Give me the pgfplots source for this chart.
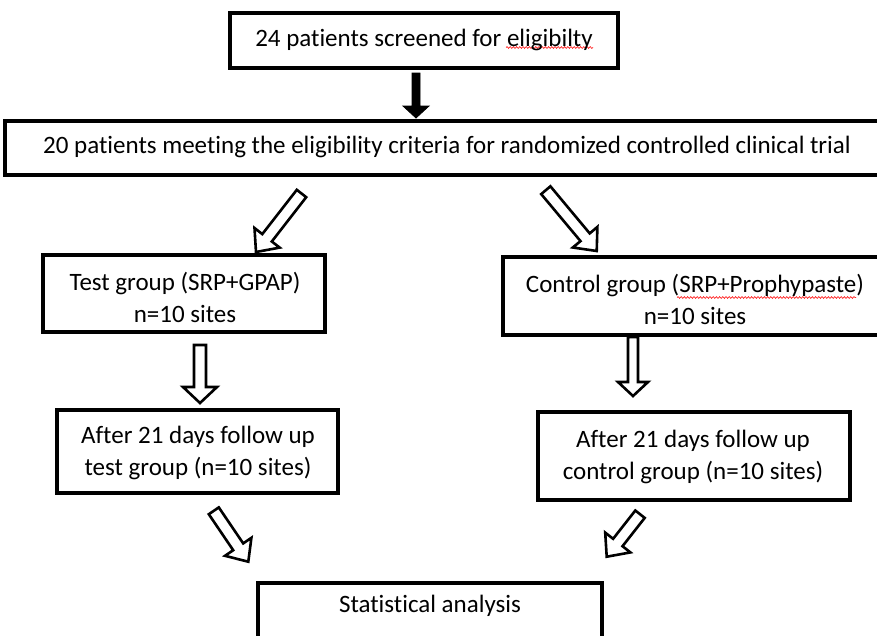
\documentclass[border=0pt]{standalone}
\usepackage{pgfplots}
\pgfplotsset{compat=1.18}
\usetikzlibrary{decorations.pathmorphing}
\usepackage{fontspec}
\setmainfont{Carlito}[Ligatures={NoCommon}]
\begin{document}
\begin{tikzpicture}
\begin{axis}[at={(0,0)},anchor=south west,width=877pt,height=635pt,scale only axis,
  xmin=0,xmax=877,ymin=0,ymax=635,y dir=reverse,hide axis,clip=true]
\pgfplotsset{every axis plot/.append style={mark=none,line join=miter}}
% boxes
\addplot[black,line width=3.4pt] coordinates {(230,13) (618,13) (618,68) (230,68)} -- cycle;
\addplot[black,line width=3.2pt] coordinates {(5,121) (890,121) (890,175) (5,175)} -- cycle;
\addplot[black,line width=3.2pt] coordinates {(43,255) (325,255) (325,332) (43,332)} -- cycle;
\addplot[black,line width=3.2pt] coordinates {(503,257) (890,257) (890,335) (503,335)} -- cycle;
\addplot[black,line width=3.2pt] coordinates {(57,410) (338,410) (338,493) (57,493)} -- cycle;
\addplot[black,line width=3.2pt] coordinates {(538,412) (850,412) (850,500) (538,500)} -- cycle;
\addplot[black,line width=3.2pt] coordinates {(258,583) (602,583) (602,660) (258,660)} -- cycle;
% solid arrow
\addplot[black,fill=black,line width=0.8pt] coordinates {(412,73) (420,73) (420,106) (429,106) (416,118) (403,106) (412,106)} -- cycle;
% hollow arrows
\addplot[black,fill=white,line width=2.6pt] coordinates {(296.8,189.8) (262.3,234.1) (254.5,228.0) (256,252) (279.7,247.6) (271.8,241.5) (306.2,197.2)} -- cycle;
\addplot[black,fill=white,line width=2.6pt] coordinates {(541.2,194.1) (580.5,241.1) (572.8,247.5) (596.7,251) (597.4,226.9) (589.7,233.4) (550.4,186.3)} -- cycle;
\addplot[black,fill=white,line width=2.6pt] coordinates {(194,345) (206,345) (206,387) (217,387) (200,403) (183,387) (194,387)} -- cycle;
\addplot[black,fill=white,line width=2.6pt] coordinates {(628,337) (638,337) (638,382) (648,382) (633,396) (618,382) (628,382)} -- cycle;
\addplot[black,fill=white,line width=2.6pt] coordinates {(208.8,514.2) (233.2,550.2) (225,555.8) (248.3,561.7) (251.4,537.8) (243.2,543.4) (218.8,507.4)} -- cycle;
\addplot[black,fill=white,line width=2.6pt] coordinates {(635.3,510.5) (613.1,538.8) (605.2,532.6) (606.7,556.7) (630.4,552.4) (622.5,546.2) (644.7,517.9)} -- cycle;
% red wavy underlines
\draw[red!85!white,line width=0.7pt,decorate,decoration={snake,amplitude=0.9pt,segment length=3.2pt}] (axis cs:506,47.5) -- (axis cs:593,47.5);
\draw[red!85!white,line width=0.7pt,decorate,decoration={snake,amplitude=0.9pt,segment length=3.2pt}] (axis cs:677,297.5) -- (axis cs:856,297.5);
% texts
\tikzset{bt/.style={font=\fontsize{25}{32}\selectfont,align=center,inner sep=0pt,text=black}}
\node[bt] at (axis cs:424,40) {24 patients screened for eligibilty};
\node[bt] at (axis cs:447,147) {20 patients meeting the eligibility criteria for randomized controlled clinical trial};
\node[bt] at (axis cs:185,297) {Test group (SRP+GPAP)\\n=10 sites};
\node[bt] at (axis cs:695,299) {Control group (SRP+Prophypaste)\\n=10 sites};
\node[bt] at (axis cs:198,453) {After 21 days follow up\\test group (n=10 sites)};
\node[bt] at (axis cs:693,457) {After 21 days follow up\\control group (n=10 sites)};
\node[bt] at (axis cs:430,606) {Statistical analysis};
\end{axis}
\pgfresetboundingbox
\path[use as bounding box] (0,0) rectangle (877pt,635pt);
\end{tikzpicture}
\end{document}
